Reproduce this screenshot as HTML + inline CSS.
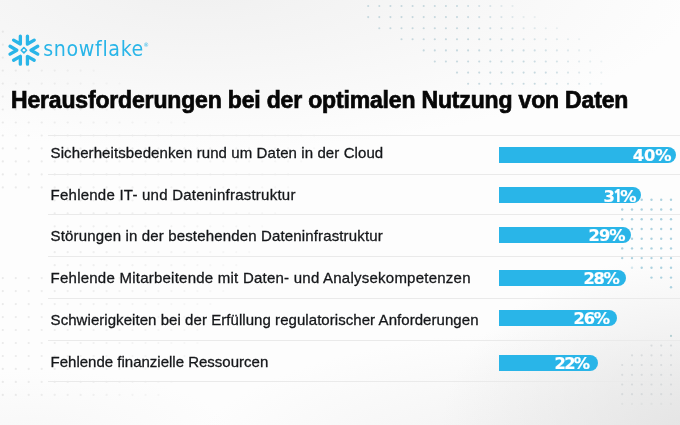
<!DOCTYPE html>
<html><head><meta charset="utf-8">
<style>
html,body{margin:0;padding:0}
body{width:680px;height:425px;overflow:hidden;position:relative;
background:
radial-gradient(ellipse 500px 165px at 200px -15px, rgba(240,240,240,1), rgba(240,240,240,0) 100%),
radial-gradient(ellipse 250px 180px at 690px 435px, rgba(228,228,228,1), rgba(228,228,228,0) 100%),
radial-gradient(ellipse 200px 60px at 30px 430px, rgba(248,248,248,1), rgba(248,248,248,0) 100%),
radial-gradient(ellipse 380px 140px at 560px 470px, rgba(240,240,240,1), rgba(240,240,240,0) 100%),
#fdfdfd;
font-family:"Liberation Sans",sans-serif}
.abs{position:absolute}
.logo-word{position:absolute;left:43.2px;top:35px;font-family:"DejaVu Sans Condensed","DejaVu Sans",sans-serif;font-size:21.2px;color:#29b5e8;letter-spacing:0.65px;line-height:28px;white-space:nowrap}
.logo-word sup{font-size:6px;vertical-align:top;position:relative;top:-4px;left:-0.5px}
.title{position:absolute;left:11px;top:86px;font-size:23px;font-weight:700;color:#070707;white-space:nowrap;line-height:28px;letter-spacing:-0.17px;-webkit-text-stroke:0.7px #070707}
.line{position:absolute;left:48px;right:0;height:1px;background:#eaeaea}
.row{position:absolute;left:50.6px;font-size:15px;color:#15171a;white-space:nowrap;line-height:20px;-webkit-text-stroke:0.3px #15171a}
.bar{position:absolute;left:499px;height:16px;background:#29b5e8;border-radius:0 8px 8px 0}
.bar>span{position:absolute;top:-0.8px;line-height:20px;font-family:"DejaVu Sans",sans-serif;font-size:16.3px;font-weight:700;color:#fff;white-space:nowrap;-webkit-text-stroke:0.2px #fff}
</style></head><body>
<!--DOTS--><svg class="abs" style="left:0;top:0" width="680" height="425" viewBox="0 0 680 425"><circle cx="368.2" cy="6.0" r="1.05" fill="#b5cdd6" opacity="0.75"/><circle cx="379.3" cy="6.0" r="1.05" fill="#b5cdd6" opacity="0.75"/><circle cx="390.4" cy="6.0" r="1.05" fill="#b5cdd6" opacity="0.75"/><circle cx="401.5" cy="6.0" r="1.05" fill="#b5cdd6" opacity="0.75"/><circle cx="412.6" cy="6.0" r="1.05" fill="#b5cdd6" opacity="0.75"/><circle cx="423.7" cy="6.0" r="1.05" fill="#b5cdd6" opacity="0.75"/><circle cx="434.8" cy="6.0" r="1.05" fill="#b5cdd6" opacity="0.75"/><circle cx="445.9" cy="6.0" r="1.05" fill="#b5cdd6" opacity="0.75"/><circle cx="457.0" cy="6.0" r="1.05" fill="#b5cdd6" opacity="0.72"/><circle cx="468.1" cy="6.0" r="1.05" fill="#b5cdd6" opacity="0.64"/><circle cx="479.2" cy="6.0" r="1.05" fill="#b5cdd6" opacity="0.56"/><circle cx="490.3" cy="6.0" r="1.05" fill="#b5cdd6" opacity="0.48"/><circle cx="501.4" cy="6.0" r="1.05" fill="#b5cdd6" opacity="0.41"/><circle cx="512.5" cy="6.0" r="1.05" fill="#b5cdd6" opacity="0.33"/><circle cx="368.2" cy="17.1" r="1.05" fill="#b5cdd6" opacity="0.75"/><circle cx="379.3" cy="17.1" r="1.05" fill="#b5cdd6" opacity="0.75"/><circle cx="390.4" cy="17.1" r="1.05" fill="#b5cdd6" opacity="0.75"/><circle cx="401.5" cy="17.1" r="1.05" fill="#b5cdd6" opacity="0.75"/><circle cx="412.6" cy="17.1" r="1.05" fill="#b5cdd6" opacity="0.75"/><circle cx="423.7" cy="17.1" r="1.05" fill="#b5cdd6" opacity="0.75"/><circle cx="434.8" cy="17.1" r="1.05" fill="#b5cdd6" opacity="0.75"/><circle cx="445.9" cy="17.1" r="1.05" fill="#b5cdd6" opacity="0.75"/><circle cx="457.0" cy="17.1" r="1.05" fill="#b5cdd6" opacity="0.75"/><circle cx="468.1" cy="17.1" r="1.05" fill="#b5cdd6" opacity="0.69"/><circle cx="479.2" cy="17.1" r="1.05" fill="#b5cdd6" opacity="0.62"/><circle cx="490.3" cy="17.1" r="1.05" fill="#b5cdd6" opacity="0.55"/><circle cx="501.4" cy="17.1" r="1.05" fill="#b5cdd6" opacity="0.47"/><circle cx="512.5" cy="17.1" r="1.05" fill="#b5cdd6" opacity="0.40"/><circle cx="523.6" cy="17.1" r="1.05" fill="#b5cdd6" opacity="0.33"/><circle cx="534.7" cy="17.1" r="1.05" fill="#b5cdd6" opacity="0.26"/><circle cx="379.3" cy="28.2" r="1.05" fill="#b5cdd6" opacity="0.75"/><circle cx="390.4" cy="28.2" r="1.05" fill="#b5cdd6" opacity="0.75"/><circle cx="401.5" cy="28.2" r="1.05" fill="#b5cdd6" opacity="0.75"/><circle cx="412.6" cy="28.2" r="1.05" fill="#b5cdd6" opacity="0.75"/><circle cx="423.7" cy="28.2" r="1.05" fill="#b5cdd6" opacity="0.75"/><circle cx="434.8" cy="28.2" r="1.05" fill="#b5cdd6" opacity="0.75"/><circle cx="445.9" cy="28.2" r="1.05" fill="#b5cdd6" opacity="0.75"/><circle cx="457.0" cy="28.2" r="1.05" fill="#b5cdd6" opacity="0.75"/><circle cx="468.1" cy="28.2" r="1.05" fill="#b5cdd6" opacity="0.75"/><circle cx="479.2" cy="28.2" r="1.05" fill="#b5cdd6" opacity="0.73"/><circle cx="490.3" cy="28.2" r="1.05" fill="#b5cdd6" opacity="0.67"/><circle cx="501.4" cy="28.2" r="1.05" fill="#b5cdd6" opacity="0.60"/><circle cx="512.5" cy="28.2" r="1.05" fill="#b5cdd6" opacity="0.53"/><circle cx="523.6" cy="28.2" r="1.05" fill="#b5cdd6" opacity="0.46"/><circle cx="534.7" cy="28.2" r="1.05" fill="#b5cdd6" opacity="0.40"/><circle cx="545.8" cy="28.2" r="1.05" fill="#b5cdd6" opacity="0.33"/><circle cx="556.9" cy="28.2" r="1.05" fill="#b5cdd6" opacity="0.26"/><circle cx="401.5" cy="39.3" r="1.05" fill="#b5cdd6" opacity="0.75"/><circle cx="412.6" cy="39.3" r="1.05" fill="#b5cdd6" opacity="0.75"/><circle cx="423.7" cy="39.3" r="1.05" fill="#b5cdd6" opacity="0.75"/><circle cx="434.8" cy="39.3" r="1.05" fill="#b5cdd6" opacity="0.75"/><circle cx="445.9" cy="39.3" r="1.05" fill="#b5cdd6" opacity="0.75"/><circle cx="457.0" cy="39.3" r="1.05" fill="#b5cdd6" opacity="0.75"/><circle cx="468.1" cy="39.3" r="1.05" fill="#b5cdd6" opacity="0.75"/><circle cx="479.2" cy="39.3" r="1.05" fill="#b5cdd6" opacity="0.75"/><circle cx="490.3" cy="39.3" r="1.05" fill="#b5cdd6" opacity="0.75"/><circle cx="501.4" cy="39.3" r="1.05" fill="#b5cdd6" opacity="0.73"/><circle cx="512.5" cy="39.3" r="1.05" fill="#b5cdd6" opacity="0.66"/><circle cx="523.6" cy="39.3" r="1.05" fill="#b5cdd6" opacity="0.60"/><circle cx="534.7" cy="39.3" r="1.05" fill="#b5cdd6" opacity="0.53"/><circle cx="545.8" cy="39.3" r="1.05" fill="#b5cdd6" opacity="0.46"/><circle cx="556.9" cy="39.3" r="1.05" fill="#b5cdd6" opacity="0.40"/><circle cx="568.0" cy="39.3" r="1.05" fill="#b5cdd6" opacity="0.33"/><circle cx="579.1" cy="39.3" r="1.05" fill="#b5cdd6" opacity="0.26"/><circle cx="423.7" cy="50.4" r="1.05" fill="#b5cdd6" opacity="0.75"/><circle cx="434.8" cy="50.4" r="1.05" fill="#b5cdd6" opacity="0.75"/><circle cx="445.9" cy="50.4" r="1.05" fill="#b5cdd6" opacity="0.75"/><circle cx="457.0" cy="50.4" r="1.05" fill="#b5cdd6" opacity="0.75"/><circle cx="468.1" cy="50.4" r="1.05" fill="#b5cdd6" opacity="0.75"/><circle cx="479.2" cy="50.4" r="1.05" fill="#b5cdd6" opacity="0.75"/><circle cx="490.3" cy="50.4" r="1.05" fill="#b5cdd6" opacity="0.75"/><circle cx="501.4" cy="50.4" r="1.05" fill="#b5cdd6" opacity="0.75"/><circle cx="512.5" cy="50.4" r="1.05" fill="#b5cdd6" opacity="0.75"/><circle cx="523.6" cy="50.4" r="1.05" fill="#b5cdd6" opacity="0.69"/><circle cx="534.7" cy="50.4" r="1.05" fill="#b5cdd6" opacity="0.62"/><circle cx="545.8" cy="50.4" r="1.05" fill="#b5cdd6" opacity="0.55"/><circle cx="556.9" cy="50.4" r="1.05" fill="#b5cdd6" opacity="0.48"/><circle cx="568.0" cy="50.4" r="1.05" fill="#b5cdd6" opacity="0.40"/><circle cx="579.1" cy="50.4" r="1.05" fill="#b5cdd6" opacity="0.33"/><circle cx="590.2" cy="50.4" r="1.05" fill="#b5cdd6" opacity="0.26"/><circle cx="434.8" cy="61.5" r="1.05" fill="#b5cdd6" opacity="0.75"/><circle cx="445.9" cy="61.5" r="1.05" fill="#b5cdd6" opacity="0.75"/><circle cx="457.0" cy="61.5" r="1.05" fill="#b5cdd6" opacity="0.75"/><circle cx="468.1" cy="61.5" r="1.05" fill="#b5cdd6" opacity="0.75"/><circle cx="479.2" cy="61.5" r="1.05" fill="#b5cdd6" opacity="0.75"/><circle cx="490.3" cy="61.5" r="1.05" fill="#b5cdd6" opacity="0.75"/><circle cx="501.4" cy="61.5" r="1.05" fill="#b5cdd6" opacity="0.75"/><circle cx="512.5" cy="61.5" r="1.05" fill="#b5cdd6" opacity="0.75"/><circle cx="523.6" cy="61.5" r="1.05" fill="#b5cdd6" opacity="0.75"/><circle cx="534.7" cy="61.5" r="1.05" fill="#b5cdd6" opacity="0.69"/><circle cx="545.8" cy="61.5" r="1.05" fill="#b5cdd6" opacity="0.62"/><circle cx="556.9" cy="61.5" r="1.05" fill="#b5cdd6" opacity="0.55"/><circle cx="568.0" cy="61.5" r="1.05" fill="#b5cdd6" opacity="0.48"/><circle cx="579.1" cy="61.5" r="1.05" fill="#b5cdd6" opacity="0.40"/><circle cx="590.2" cy="61.5" r="1.05" fill="#b5cdd6" opacity="0.33"/><circle cx="601.3" cy="61.5" r="1.05" fill="#b5cdd6" opacity="0.26"/><circle cx="457.0" cy="72.6" r="1.05" fill="#b5cdd6" opacity="0.75"/><circle cx="468.1" cy="72.6" r="1.05" fill="#b5cdd6" opacity="0.75"/><circle cx="479.2" cy="72.6" r="1.05" fill="#b5cdd6" opacity="0.75"/><circle cx="490.3" cy="72.6" r="1.05" fill="#b5cdd6" opacity="0.75"/><circle cx="501.4" cy="72.6" r="1.05" fill="#b5cdd6" opacity="0.75"/><circle cx="512.5" cy="72.6" r="1.05" fill="#b5cdd6" opacity="0.75"/><circle cx="523.6" cy="72.6" r="1.05" fill="#b5cdd6" opacity="0.75"/><circle cx="534.7" cy="72.6" r="1.05" fill="#b5cdd6" opacity="0.75"/><circle cx="545.8" cy="72.6" r="1.05" fill="#b5cdd6" opacity="0.67"/><circle cx="556.9" cy="72.6" r="1.05" fill="#b5cdd6" opacity="0.59"/><circle cx="568.0" cy="72.6" r="1.05" fill="#b5cdd6" opacity="0.51"/><circle cx="579.1" cy="72.6" r="1.05" fill="#b5cdd6" opacity="0.43"/><circle cx="590.2" cy="72.6" r="1.05" fill="#b5cdd6" opacity="0.34"/><circle cx="601.3" cy="72.6" r="1.05" fill="#b5cdd6" opacity="0.26"/><circle cx="468.1" cy="83.7" r="1.05" fill="#b5cdd6" opacity="0.75"/><circle cx="479.2" cy="83.7" r="1.05" fill="#b5cdd6" opacity="0.75"/><circle cx="490.3" cy="83.7" r="1.05" fill="#b5cdd6" opacity="0.75"/><circle cx="501.4" cy="83.7" r="1.05" fill="#b5cdd6" opacity="0.75"/><circle cx="512.5" cy="83.7" r="1.05" fill="#b5cdd6" opacity="0.75"/><circle cx="523.6" cy="83.7" r="1.05" fill="#b5cdd6" opacity="0.75"/><circle cx="534.7" cy="83.7" r="1.05" fill="#b5cdd6" opacity="0.75"/><circle cx="545.8" cy="83.7" r="1.05" fill="#b5cdd6" opacity="0.71"/><circle cx="556.9" cy="83.7" r="1.05" fill="#b5cdd6" opacity="0.62"/><circle cx="568.0" cy="83.7" r="1.05" fill="#b5cdd6" opacity="0.53"/><circle cx="579.1" cy="83.7" r="1.05" fill="#b5cdd6" opacity="0.44"/><circle cx="590.2" cy="83.7" r="1.05" fill="#b5cdd6" opacity="0.35"/><circle cx="601.3" cy="83.7" r="1.05" fill="#b5cdd6" opacity="0.26"/><circle cx="622.2" cy="199.8" r="1.2" fill="#acd2e0" opacity="1.00"/><circle cx="632.0" cy="199.8" r="1.2" fill="#acd2e0" opacity="1.00"/><circle cx="641.7" cy="199.8" r="1.2" fill="#acd2e0" opacity="1.00"/><circle cx="651.5" cy="199.8" r="1.2" fill="#acd2e0" opacity="1.00"/><circle cx="661.2" cy="199.8" r="1.2" fill="#acd2e0" opacity="1.00"/><circle cx="671.0" cy="199.8" r="1.2" fill="#acd2e0" opacity="1.00"/><circle cx="622.2" cy="209.5" r="1.2" fill="#acd2e0" opacity="1.00"/><circle cx="632.0" cy="209.5" r="1.2" fill="#acd2e0" opacity="1.00"/><circle cx="641.7" cy="209.5" r="1.2" fill="#acd2e0" opacity="1.00"/><circle cx="651.5" cy="209.5" r="1.2" fill="#acd2e0" opacity="1.00"/><circle cx="661.2" cy="209.5" r="1.2" fill="#acd2e0" opacity="1.00"/><circle cx="671.0" cy="209.5" r="1.2" fill="#acd2e0" opacity="1.00"/><circle cx="622.2" cy="219.2" r="1.2" fill="#acd2e0" opacity="1.00"/><circle cx="632.0" cy="219.2" r="1.2" fill="#acd2e0" opacity="1.00"/><circle cx="641.7" cy="219.2" r="1.2" fill="#acd2e0" opacity="1.00"/><circle cx="651.5" cy="219.2" r="1.2" fill="#acd2e0" opacity="1.00"/><circle cx="661.2" cy="219.2" r="1.2" fill="#acd2e0" opacity="1.00"/><circle cx="671.0" cy="219.2" r="1.2" fill="#acd2e0" opacity="1.00"/><circle cx="622.2" cy="229.0" r="1.2" fill="#acd2e0" opacity="1.00"/><circle cx="632.0" cy="229.0" r="1.2" fill="#acd2e0" opacity="1.00"/><circle cx="641.7" cy="229.0" r="1.2" fill="#acd2e0" opacity="1.00"/><circle cx="651.5" cy="229.0" r="1.2" fill="#acd2e0" opacity="1.00"/><circle cx="661.2" cy="229.0" r="1.2" fill="#acd2e0" opacity="1.00"/><circle cx="671.0" cy="229.0" r="1.2" fill="#acd2e0" opacity="1.00"/><circle cx="622.2" cy="238.7" r="1.2" fill="#acd2e0" opacity="1.00"/><circle cx="632.0" cy="238.7" r="1.2" fill="#acd2e0" opacity="1.00"/><circle cx="641.7" cy="238.7" r="1.2" fill="#acd2e0" opacity="1.00"/><circle cx="651.5" cy="238.7" r="1.2" fill="#acd2e0" opacity="1.00"/><circle cx="661.2" cy="238.7" r="1.2" fill="#acd2e0" opacity="1.00"/><circle cx="671.0" cy="238.7" r="1.2" fill="#acd2e0" opacity="1.00"/><circle cx="622.2" cy="248.4" r="1.2" fill="#acd2e0" opacity="1.00"/><circle cx="632.0" cy="248.4" r="1.2" fill="#acd2e0" opacity="1.00"/><circle cx="641.7" cy="248.4" r="1.2" fill="#acd2e0" opacity="1.00"/><circle cx="651.5" cy="248.4" r="1.2" fill="#acd2e0" opacity="1.00"/><circle cx="661.2" cy="248.4" r="1.2" fill="#acd2e0" opacity="1.00"/><circle cx="671.0" cy="248.4" r="1.2" fill="#acd2e0" opacity="1.00"/><circle cx="622.2" cy="258.1" r="1.2" fill="#acd2e0" opacity="1.00"/><circle cx="632.0" cy="258.1" r="1.2" fill="#acd2e0" opacity="1.00"/><circle cx="641.7" cy="258.1" r="1.2" fill="#acd2e0" opacity="1.00"/><circle cx="651.5" cy="258.1" r="1.2" fill="#acd2e0" opacity="1.00"/><circle cx="661.2" cy="258.1" r="1.2" fill="#acd2e0" opacity="1.00"/><circle cx="671.0" cy="258.1" r="1.2" fill="#acd2e0" opacity="1.00"/><circle cx="632.0" cy="267.8" r="1.2" fill="#acd2e0" opacity="0.50"/><circle cx="641.7" cy="267.8" r="1.2" fill="#acd2e0" opacity="1.00"/><circle cx="651.5" cy="267.8" r="1.2" fill="#acd2e0" opacity="1.00"/><circle cx="661.2" cy="267.8" r="1.2" fill="#acd2e0" opacity="1.00"/><circle cx="671.0" cy="267.8" r="1.2" fill="#acd2e0" opacity="1.00"/><circle cx="651.5" cy="277.6" r="1.2" fill="#acd2e0" opacity="1.00"/><circle cx="661.2" cy="277.6" r="1.2" fill="#acd2e0" opacity="1.00"/><circle cx="671.0" cy="277.6" r="1.2" fill="#acd2e0" opacity="1.00"/><circle cx="671.0" cy="287.3" r="1.2" fill="#acd2e0" opacity="1.00"/><circle cx="671.0" cy="335.9" r="1.05" fill="#9fc3c8" opacity="0.8"/><circle cx="651.5" cy="345.6" r="1.1" fill="#d2d6d8" opacity="0.80"/><circle cx="661.2" cy="345.6" r="1.1" fill="#d2d6d8" opacity="0.80"/><circle cx="671.0" cy="345.6" r="1.1" fill="#d2d6d8" opacity="0.80"/><circle cx="632.0" cy="355.3" r="1.1" fill="#d2d6d8" opacity="0.80"/><circle cx="641.7" cy="355.3" r="1.1" fill="#d2d6d8" opacity="0.80"/><circle cx="651.5" cy="355.3" r="1.1" fill="#d2d6d8" opacity="0.80"/><circle cx="661.2" cy="355.3" r="1.1" fill="#d2d6d8" opacity="0.80"/><circle cx="671.0" cy="355.3" r="1.1" fill="#d2d6d8" opacity="0.80"/><circle cx="622.2" cy="365.0" r="1.1" fill="#d2d6d8" opacity="0.80"/><circle cx="632.0" cy="365.0" r="1.1" fill="#d2d6d8" opacity="0.80"/><circle cx="641.7" cy="365.0" r="1.1" fill="#d2d6d8" opacity="0.80"/><circle cx="651.5" cy="365.0" r="1.1" fill="#d2d6d8" opacity="0.80"/><circle cx="661.2" cy="365.0" r="1.1" fill="#d2d6d8" opacity="0.80"/><circle cx="671.0" cy="365.0" r="1.1" fill="#d2d6d8" opacity="0.80"/><circle cx="622.2" cy="374.8" r="1.1" fill="#d2d6d8" opacity="0.80"/><circle cx="632.0" cy="374.8" r="1.1" fill="#d2d6d8" opacity="0.80"/><circle cx="641.7" cy="374.8" r="1.1" fill="#d2d6d8" opacity="0.80"/><circle cx="651.5" cy="374.8" r="1.1" fill="#d2d6d8" opacity="0.80"/><circle cx="661.2" cy="374.8" r="1.1" fill="#d2d6d8" opacity="0.80"/><circle cx="671.0" cy="374.8" r="1.1" fill="#d2d6d8" opacity="0.80"/><circle cx="622.2" cy="384.5" r="1.1" fill="#d2d6d8" opacity="0.80"/><circle cx="632.0" cy="384.5" r="1.1" fill="#d2d6d8" opacity="0.80"/><circle cx="641.7" cy="384.5" r="1.1" fill="#d2d6d8" opacity="0.80"/><circle cx="651.5" cy="384.5" r="1.1" fill="#d2d6d8" opacity="0.80"/><circle cx="661.2" cy="384.5" r="1.1" fill="#d2d6d8" opacity="0.80"/><circle cx="671.0" cy="384.5" r="1.1" fill="#d2d6d8" opacity="0.80"/><circle cx="622.2" cy="394.2" r="1.1" fill="#d2d6d8" opacity="0.80"/><circle cx="632.0" cy="394.2" r="1.1" fill="#d2d6d8" opacity="0.80"/><circle cx="641.7" cy="394.2" r="1.1" fill="#d2d6d8" opacity="0.80"/><circle cx="651.5" cy="394.2" r="1.1" fill="#d2d6d8" opacity="0.80"/><circle cx="661.2" cy="394.2" r="1.1" fill="#d2d6d8" opacity="0.80"/><circle cx="671.0" cy="394.2" r="1.1" fill="#d2d6d8" opacity="0.80"/><circle cx="622.2" cy="403.9" r="1.1" fill="#d2d6d8" opacity="0.45"/><circle cx="632.0" cy="403.9" r="1.1" fill="#d2d6d8" opacity="0.45"/><circle cx="641.7" cy="403.9" r="1.1" fill="#d2d6d8" opacity="0.45"/><circle cx="651.5" cy="403.9" r="1.1" fill="#d2d6d8" opacity="0.45"/><circle cx="661.2" cy="403.9" r="1.1" fill="#d2d6d8" opacity="0.45"/><circle cx="671.0" cy="403.9" r="1.1" fill="#d2d6d8" opacity="0.45"/><circle cx="2.8" cy="31.7" r="1.1" fill="#dcdcdc" opacity="0.59"/><circle cx="2.8" cy="44.7" r="1.1" fill="#dcdcdc" opacity="0.59"/><circle cx="2.8" cy="57.6" r="1.1" fill="#dcdcdc" opacity="0.59"/><circle cx="2.8" cy="70.6" r="1.1" fill="#dcdcdc" opacity="0.59"/><circle cx="15.8" cy="70.6" r="1.1" fill="#dcdcdc" opacity="0.54"/><circle cx="28.7" cy="70.6" r="1.1" fill="#dcdcdc" opacity="0.50"/><circle cx="41.7" cy="70.6" r="1.1" fill="#dcdcdc" opacity="0.46"/><circle cx="54.7" cy="70.6" r="1.1" fill="#dcdcdc" opacity="0.42"/><circle cx="67.7" cy="70.6" r="1.1" fill="#dcdcdc" opacity="0.38"/><circle cx="80.6" cy="70.6" r="1.1" fill="#dcdcdc" opacity="0.33"/><circle cx="93.6" cy="70.6" r="1.1" fill="#dcdcdc" opacity="0.29"/><circle cx="2.8" cy="83.6" r="1.1" fill="#dcdcdc" opacity="0.59"/><circle cx="15.8" cy="83.6" r="1.1" fill="#dcdcdc" opacity="0.54"/><circle cx="28.7" cy="83.6" r="1.1" fill="#dcdcdc" opacity="0.50"/><circle cx="41.7" cy="83.6" r="1.1" fill="#dcdcdc" opacity="0.46"/><circle cx="54.7" cy="83.6" r="1.1" fill="#dcdcdc" opacity="0.42"/><circle cx="67.7" cy="83.6" r="1.1" fill="#dcdcdc" opacity="0.38"/><circle cx="80.6" cy="83.6" r="1.1" fill="#dcdcdc" opacity="0.33"/><circle cx="93.6" cy="83.6" r="1.1" fill="#dcdcdc" opacity="0.29"/><circle cx="106.6" cy="83.6" r="1.1" fill="#dcdcdc" opacity="0.25"/><circle cx="119.5" cy="83.6" r="1.1" fill="#dcdcdc" opacity="0.21"/><circle cx="2.8" cy="96.6" r="1.1" fill="#dcdcdc" opacity="0.59"/><circle cx="15.8" cy="96.6" r="1.1" fill="#dcdcdc" opacity="0.54"/><circle cx="28.7" cy="96.6" r="1.1" fill="#dcdcdc" opacity="0.50"/><circle cx="41.7" cy="96.6" r="1.1" fill="#dcdcdc" opacity="0.46"/><circle cx="54.7" cy="96.6" r="1.1" fill="#dcdcdc" opacity="0.42"/><circle cx="67.7" cy="96.6" r="1.1" fill="#dcdcdc" opacity="0.38"/><circle cx="80.6" cy="96.6" r="1.1" fill="#dcdcdc" opacity="0.33"/><circle cx="93.6" cy="96.6" r="1.1" fill="#dcdcdc" opacity="0.29"/><circle cx="106.6" cy="96.6" r="1.1" fill="#dcdcdc" opacity="0.25"/><circle cx="119.5" cy="96.6" r="1.1" fill="#dcdcdc" opacity="0.21"/><circle cx="2.8" cy="109.5" r="1.1" fill="#dcdcdc" opacity="0.59"/><circle cx="15.8" cy="109.5" r="1.1" fill="#dcdcdc" opacity="0.54"/><circle cx="28.7" cy="109.5" r="1.1" fill="#dcdcdc" opacity="0.50"/><circle cx="41.7" cy="109.5" r="1.1" fill="#dcdcdc" opacity="0.46"/><circle cx="54.7" cy="109.5" r="1.1" fill="#dcdcdc" opacity="0.42"/><circle cx="67.7" cy="109.5" r="1.1" fill="#dcdcdc" opacity="0.38"/><circle cx="80.6" cy="109.5" r="1.1" fill="#dcdcdc" opacity="0.33"/><circle cx="93.6" cy="109.5" r="1.1" fill="#dcdcdc" opacity="0.29"/><circle cx="106.6" cy="109.5" r="1.1" fill="#dcdcdc" opacity="0.25"/><circle cx="119.5" cy="109.5" r="1.1" fill="#dcdcdc" opacity="0.21"/><circle cx="2.8" cy="122.5" r="1.1" fill="#dcdcdc" opacity="0.59"/><circle cx="15.8" cy="122.5" r="1.1" fill="#dcdcdc" opacity="0.56"/><circle cx="28.7" cy="122.5" r="1.1" fill="#dcdcdc" opacity="0.53"/><circle cx="41.7" cy="122.5" r="1.1" fill="#dcdcdc" opacity="0.50"/><circle cx="54.7" cy="122.5" r="1.1" fill="#dcdcdc" opacity="0.47"/><circle cx="67.7" cy="122.5" r="1.1" fill="#dcdcdc" opacity="0.45"/><circle cx="80.6" cy="122.5" r="1.1" fill="#dcdcdc" opacity="0.42"/><circle cx="93.6" cy="122.5" r="1.1" fill="#dcdcdc" opacity="0.39"/><circle cx="106.6" cy="122.5" r="1.1" fill="#dcdcdc" opacity="0.36"/><circle cx="119.5" cy="122.5" r="1.1" fill="#dcdcdc" opacity="0.33"/><circle cx="132.5" cy="122.5" r="1.1" fill="#dcdcdc" opacity="0.30"/><circle cx="145.5" cy="122.5" r="1.1" fill="#dcdcdc" opacity="0.27"/><circle cx="158.4" cy="122.5" r="1.1" fill="#dcdcdc" opacity="0.24"/><circle cx="171.4" cy="122.5" r="1.1" fill="#dcdcdc" opacity="0.22"/><circle cx="184.4" cy="122.5" r="1.1" fill="#dcdcdc" opacity="0.19"/><circle cx="2.8" cy="135.5" r="1.1" fill="#dcdcdc" opacity="0.59"/><circle cx="15.8" cy="135.5" r="1.1" fill="#dcdcdc" opacity="0.57"/><circle cx="28.7" cy="135.5" r="1.1" fill="#dcdcdc" opacity="0.56"/><circle cx="41.7" cy="135.5" r="1.1" fill="#dcdcdc" opacity="0.54"/><circle cx="54.7" cy="135.5" r="1.1" fill="#dcdcdc" opacity="0.52"/><circle cx="67.7" cy="135.5" r="1.1" fill="#dcdcdc" opacity="0.51"/><circle cx="80.6" cy="135.5" r="1.1" fill="#dcdcdc" opacity="0.49"/><circle cx="93.6" cy="135.5" r="1.1" fill="#dcdcdc" opacity="0.47"/><circle cx="106.6" cy="135.5" r="1.1" fill="#dcdcdc" opacity="0.46"/><circle cx="119.5" cy="135.5" r="1.1" fill="#dcdcdc" opacity="0.44"/><circle cx="132.5" cy="135.5" r="1.1" fill="#dcdcdc" opacity="0.42"/><circle cx="145.5" cy="135.5" r="1.1" fill="#dcdcdc" opacity="0.41"/><circle cx="158.4" cy="135.5" r="1.1" fill="#dcdcdc" opacity="0.39"/><circle cx="171.4" cy="135.5" r="1.1" fill="#dcdcdc" opacity="0.37"/><circle cx="184.4" cy="135.5" r="1.1" fill="#dcdcdc" opacity="0.35"/><circle cx="197.4" cy="135.5" r="1.1" fill="#dcdcdc" opacity="0.34"/><circle cx="210.3" cy="135.5" r="1.1" fill="#dcdcdc" opacity="0.32"/><circle cx="223.3" cy="135.5" r="1.1" fill="#dcdcdc" opacity="0.30"/><circle cx="236.3" cy="135.5" r="1.1" fill="#dcdcdc" opacity="0.29"/><circle cx="249.2" cy="135.5" r="1.1" fill="#dcdcdc" opacity="0.27"/><circle cx="262.2" cy="135.5" r="1.1" fill="#dcdcdc" opacity="0.25"/><circle cx="275.2" cy="135.5" r="1.1" fill="#dcdcdc" opacity="0.24"/><circle cx="288.1" cy="135.5" r="1.1" fill="#dcdcdc" opacity="0.22"/><circle cx="301.1" cy="135.5" r="1.1" fill="#dcdcdc" opacity="0.20"/><circle cx="314.1" cy="135.5" r="1.1" fill="#dcdcdc" opacity="0.19"/><circle cx="2.8" cy="148.4" r="1.1" fill="#dcdcdc" opacity="0.59"/><circle cx="15.8" cy="148.4" r="1.1" fill="#dcdcdc" opacity="0.57"/><circle cx="28.7" cy="148.4" r="1.1" fill="#dcdcdc" opacity="0.56"/><circle cx="41.7" cy="148.4" r="1.1" fill="#dcdcdc" opacity="0.54"/><circle cx="54.7" cy="148.4" r="1.1" fill="#dcdcdc" opacity="0.52"/><circle cx="67.7" cy="148.4" r="1.1" fill="#dcdcdc" opacity="0.50"/><circle cx="80.6" cy="148.4" r="1.1" fill="#dcdcdc" opacity="0.49"/><circle cx="93.6" cy="148.4" r="1.1" fill="#dcdcdc" opacity="0.47"/><circle cx="106.6" cy="148.4" r="1.1" fill="#dcdcdc" opacity="0.45"/><circle cx="119.5" cy="148.4" r="1.1" fill="#dcdcdc" opacity="0.44"/><circle cx="132.5" cy="148.4" r="1.1" fill="#dcdcdc" opacity="0.42"/><circle cx="145.5" cy="148.4" r="1.1" fill="#dcdcdc" opacity="0.40"/><circle cx="158.4" cy="148.4" r="1.1" fill="#dcdcdc" opacity="0.38"/><circle cx="171.4" cy="148.4" r="1.1" fill="#dcdcdc" opacity="0.37"/><circle cx="184.4" cy="148.4" r="1.1" fill="#dcdcdc" opacity="0.35"/><circle cx="197.4" cy="148.4" r="1.1" fill="#dcdcdc" opacity="0.33"/><circle cx="210.3" cy="148.4" r="1.1" fill="#dcdcdc" opacity="0.31"/><circle cx="223.3" cy="148.4" r="1.1" fill="#dcdcdc" opacity="0.30"/><circle cx="236.3" cy="148.4" r="1.1" fill="#dcdcdc" opacity="0.28"/><circle cx="249.2" cy="148.4" r="1.1" fill="#dcdcdc" opacity="0.26"/><circle cx="262.2" cy="148.4" r="1.1" fill="#dcdcdc" opacity="0.24"/><circle cx="275.2" cy="148.4" r="1.1" fill="#dcdcdc" opacity="0.23"/><circle cx="288.1" cy="148.4" r="1.1" fill="#dcdcdc" opacity="0.21"/><circle cx="301.1" cy="148.4" r="1.1" fill="#dcdcdc" opacity="0.19"/><circle cx="314.1" cy="148.4" r="1.1" fill="#dcdcdc" opacity="0.18"/><circle cx="2.8" cy="161.4" r="1.1" fill="#dcdcdc" opacity="0.59"/><circle cx="15.8" cy="161.4" r="1.1" fill="#dcdcdc" opacity="0.57"/><circle cx="28.7" cy="161.4" r="1.1" fill="#dcdcdc" opacity="0.56"/><circle cx="41.7" cy="161.4" r="1.1" fill="#dcdcdc" opacity="0.54"/><circle cx="54.7" cy="161.4" r="1.1" fill="#dcdcdc" opacity="0.52"/><circle cx="67.7" cy="161.4" r="1.1" fill="#dcdcdc" opacity="0.50"/><circle cx="80.6" cy="161.4" r="1.1" fill="#dcdcdc" opacity="0.48"/><circle cx="93.6" cy="161.4" r="1.1" fill="#dcdcdc" opacity="0.47"/><circle cx="106.6" cy="161.4" r="1.1" fill="#dcdcdc" opacity="0.45"/><circle cx="119.5" cy="161.4" r="1.1" fill="#dcdcdc" opacity="0.43"/><circle cx="132.5" cy="161.4" r="1.1" fill="#dcdcdc" opacity="0.41"/><circle cx="145.5" cy="161.4" r="1.1" fill="#dcdcdc" opacity="0.40"/><circle cx="158.4" cy="161.4" r="1.1" fill="#dcdcdc" opacity="0.38"/><circle cx="171.4" cy="161.4" r="1.1" fill="#dcdcdc" opacity="0.36"/><circle cx="184.4" cy="161.4" r="1.1" fill="#dcdcdc" opacity="0.34"/><circle cx="197.4" cy="161.4" r="1.1" fill="#dcdcdc" opacity="0.32"/><circle cx="210.3" cy="161.4" r="1.1" fill="#dcdcdc" opacity="0.31"/><circle cx="223.3" cy="161.4" r="1.1" fill="#dcdcdc" opacity="0.29"/><circle cx="236.3" cy="161.4" r="1.1" fill="#dcdcdc" opacity="0.27"/><circle cx="249.2" cy="161.4" r="1.1" fill="#dcdcdc" opacity="0.25"/><circle cx="262.2" cy="161.4" r="1.1" fill="#dcdcdc" opacity="0.24"/><circle cx="275.2" cy="161.4" r="1.1" fill="#dcdcdc" opacity="0.22"/><circle cx="288.1" cy="161.4" r="1.1" fill="#dcdcdc" opacity="0.20"/><circle cx="301.1" cy="161.4" r="1.1" fill="#dcdcdc" opacity="0.18"/><circle cx="2.8" cy="174.4" r="1.1" fill="#dcdcdc" opacity="0.59"/><circle cx="15.8" cy="174.4" r="1.1" fill="#dcdcdc" opacity="0.57"/><circle cx="28.7" cy="174.4" r="1.1" fill="#dcdcdc" opacity="0.55"/><circle cx="41.7" cy="174.4" r="1.1" fill="#dcdcdc" opacity="0.54"/><circle cx="54.7" cy="174.4" r="1.1" fill="#dcdcdc" opacity="0.52"/><circle cx="67.7" cy="174.4" r="1.1" fill="#dcdcdc" opacity="0.50"/><circle cx="80.6" cy="174.4" r="1.1" fill="#dcdcdc" opacity="0.48"/><circle cx="93.6" cy="174.4" r="1.1" fill="#dcdcdc" opacity="0.46"/><circle cx="106.6" cy="174.4" r="1.1" fill="#dcdcdc" opacity="0.45"/><circle cx="119.5" cy="174.4" r="1.1" fill="#dcdcdc" opacity="0.43"/><circle cx="132.5" cy="174.4" r="1.1" fill="#dcdcdc" opacity="0.41"/><circle cx="145.5" cy="174.4" r="1.1" fill="#dcdcdc" opacity="0.39"/><circle cx="158.4" cy="174.4" r="1.1" fill="#dcdcdc" opacity="0.37"/><circle cx="171.4" cy="174.4" r="1.1" fill="#dcdcdc" opacity="0.35"/><circle cx="184.4" cy="174.4" r="1.1" fill="#dcdcdc" opacity="0.34"/><circle cx="197.4" cy="174.4" r="1.1" fill="#dcdcdc" opacity="0.32"/><circle cx="210.3" cy="174.4" r="1.1" fill="#dcdcdc" opacity="0.30"/><circle cx="223.3" cy="174.4" r="1.1" fill="#dcdcdc" opacity="0.28"/><circle cx="236.3" cy="174.4" r="1.1" fill="#dcdcdc" opacity="0.26"/><circle cx="249.2" cy="174.4" r="1.1" fill="#dcdcdc" opacity="0.24"/><circle cx="262.2" cy="174.4" r="1.1" fill="#dcdcdc" opacity="0.23"/><circle cx="275.2" cy="174.4" r="1.1" fill="#dcdcdc" opacity="0.21"/><circle cx="288.1" cy="174.4" r="1.1" fill="#dcdcdc" opacity="0.19"/><circle cx="2.8" cy="187.4" r="1.1" fill="#dcdcdc" opacity="0.59"/><circle cx="15.8" cy="187.4" r="1.1" fill="#dcdcdc" opacity="0.57"/><circle cx="28.7" cy="187.4" r="1.1" fill="#dcdcdc" opacity="0.55"/><circle cx="41.7" cy="187.4" r="1.1" fill="#dcdcdc" opacity="0.53"/><circle cx="54.7" cy="187.4" r="1.1" fill="#dcdcdc" opacity="0.52"/><circle cx="67.7" cy="187.4" r="1.1" fill="#dcdcdc" opacity="0.50"/><circle cx="80.6" cy="187.4" r="1.1" fill="#dcdcdc" opacity="0.48"/><circle cx="93.6" cy="187.4" r="1.1" fill="#dcdcdc" opacity="0.46"/><circle cx="106.6" cy="187.4" r="1.1" fill="#dcdcdc" opacity="0.44"/><circle cx="119.5" cy="187.4" r="1.1" fill="#dcdcdc" opacity="0.42"/><circle cx="132.5" cy="187.4" r="1.1" fill="#dcdcdc" opacity="0.40"/><circle cx="145.5" cy="187.4" r="1.1" fill="#dcdcdc" opacity="0.38"/><circle cx="158.4" cy="187.4" r="1.1" fill="#dcdcdc" opacity="0.37"/><circle cx="171.4" cy="187.4" r="1.1" fill="#dcdcdc" opacity="0.35"/><circle cx="184.4" cy="187.4" r="1.1" fill="#dcdcdc" opacity="0.33"/><circle cx="197.4" cy="187.4" r="1.1" fill="#dcdcdc" opacity="0.31"/><circle cx="210.3" cy="187.4" r="1.1" fill="#dcdcdc" opacity="0.29"/><circle cx="223.3" cy="187.4" r="1.1" fill="#dcdcdc" opacity="0.27"/><circle cx="236.3" cy="187.4" r="1.1" fill="#dcdcdc" opacity="0.25"/><circle cx="249.2" cy="187.4" r="1.1" fill="#dcdcdc" opacity="0.24"/><circle cx="262.2" cy="187.4" r="1.1" fill="#dcdcdc" opacity="0.22"/><circle cx="275.2" cy="187.4" r="1.1" fill="#dcdcdc" opacity="0.20"/><circle cx="288.1" cy="187.4" r="1.1" fill="#dcdcdc" opacity="0.18"/><circle cx="54.7" cy="200.3" r="1.1" fill="#dcdcdc" opacity="0.51"/><circle cx="67.7" cy="200.3" r="1.1" fill="#dcdcdc" opacity="0.49"/><circle cx="80.6" cy="200.3" r="1.1" fill="#dcdcdc" opacity="0.48"/><circle cx="93.6" cy="200.3" r="1.1" fill="#dcdcdc" opacity="0.46"/><circle cx="106.6" cy="200.3" r="1.1" fill="#dcdcdc" opacity="0.44"/><circle cx="119.5" cy="200.3" r="1.1" fill="#dcdcdc" opacity="0.42"/><circle cx="132.5" cy="200.3" r="1.1" fill="#dcdcdc" opacity="0.40"/><circle cx="145.5" cy="200.3" r="1.1" fill="#dcdcdc" opacity="0.38"/><circle cx="158.4" cy="200.3" r="1.1" fill="#dcdcdc" opacity="0.36"/><circle cx="171.4" cy="200.3" r="1.1" fill="#dcdcdc" opacity="0.34"/><circle cx="184.4" cy="200.3" r="1.1" fill="#dcdcdc" opacity="0.32"/><circle cx="197.4" cy="200.3" r="1.1" fill="#dcdcdc" opacity="0.30"/><circle cx="210.3" cy="200.3" r="1.1" fill="#dcdcdc" opacity="0.28"/><circle cx="223.3" cy="200.3" r="1.1" fill="#dcdcdc" opacity="0.26"/><circle cx="236.3" cy="200.3" r="1.1" fill="#dcdcdc" opacity="0.24"/><circle cx="249.2" cy="200.3" r="1.1" fill="#dcdcdc" opacity="0.23"/><circle cx="262.2" cy="200.3" r="1.1" fill="#dcdcdc" opacity="0.21"/><circle cx="275.2" cy="200.3" r="1.1" fill="#dcdcdc" opacity="0.19"/><circle cx="54.7" cy="213.3" r="1.1" fill="#dcdcdc" opacity="0.51"/><circle cx="67.7" cy="213.3" r="1.1" fill="#dcdcdc" opacity="0.49"/><circle cx="80.6" cy="213.3" r="1.1" fill="#dcdcdc" opacity="0.47"/><circle cx="93.6" cy="213.3" r="1.1" fill="#dcdcdc" opacity="0.45"/><circle cx="106.6" cy="213.3" r="1.1" fill="#dcdcdc" opacity="0.43"/><circle cx="119.5" cy="213.3" r="1.1" fill="#dcdcdc" opacity="0.41"/><circle cx="132.5" cy="213.3" r="1.1" fill="#dcdcdc" opacity="0.39"/><circle cx="145.5" cy="213.3" r="1.1" fill="#dcdcdc" opacity="0.37"/><circle cx="158.4" cy="213.3" r="1.1" fill="#dcdcdc" opacity="0.35"/><circle cx="171.4" cy="213.3" r="1.1" fill="#dcdcdc" opacity="0.33"/><circle cx="184.4" cy="213.3" r="1.1" fill="#dcdcdc" opacity="0.31"/><circle cx="197.4" cy="213.3" r="1.1" fill="#dcdcdc" opacity="0.29"/><circle cx="210.3" cy="213.3" r="1.1" fill="#dcdcdc" opacity="0.27"/><circle cx="223.3" cy="213.3" r="1.1" fill="#dcdcdc" opacity="0.25"/><circle cx="236.3" cy="213.3" r="1.1" fill="#dcdcdc" opacity="0.23"/><circle cx="249.2" cy="213.3" r="1.1" fill="#dcdcdc" opacity="0.21"/><circle cx="262.2" cy="213.3" r="1.1" fill="#dcdcdc" opacity="0.19"/><circle cx="275.2" cy="213.3" r="1.1" fill="#dcdcdc" opacity="0.18"/><circle cx="54.7" cy="226.3" r="1.1" fill="#dcdcdc" opacity="0.51"/><circle cx="67.7" cy="226.3" r="1.1" fill="#dcdcdc" opacity="0.49"/><circle cx="80.6" cy="226.3" r="1.1" fill="#dcdcdc" opacity="0.47"/><circle cx="93.6" cy="226.3" r="1.1" fill="#dcdcdc" opacity="0.45"/><circle cx="106.6" cy="226.3" r="1.1" fill="#dcdcdc" opacity="0.43"/><circle cx="119.5" cy="226.3" r="1.1" fill="#dcdcdc" opacity="0.41"/><circle cx="132.5" cy="226.3" r="1.1" fill="#dcdcdc" opacity="0.39"/><circle cx="145.5" cy="226.3" r="1.1" fill="#dcdcdc" opacity="0.37"/><circle cx="158.4" cy="226.3" r="1.1" fill="#dcdcdc" opacity="0.35"/><circle cx="171.4" cy="226.3" r="1.1" fill="#dcdcdc" opacity="0.33"/><circle cx="184.4" cy="226.3" r="1.1" fill="#dcdcdc" opacity="0.31"/><circle cx="197.4" cy="226.3" r="1.1" fill="#dcdcdc" opacity="0.29"/><circle cx="210.3" cy="226.3" r="1.1" fill="#dcdcdc" opacity="0.26"/><circle cx="223.3" cy="226.3" r="1.1" fill="#dcdcdc" opacity="0.24"/><circle cx="236.3" cy="226.3" r="1.1" fill="#dcdcdc" opacity="0.22"/><circle cx="249.2" cy="226.3" r="1.1" fill="#dcdcdc" opacity="0.20"/><circle cx="262.2" cy="226.3" r="1.1" fill="#dcdcdc" opacity="0.18"/><circle cx="54.7" cy="239.2" r="1.1" fill="#dcdcdc" opacity="0.51"/><circle cx="67.7" cy="239.2" r="1.1" fill="#dcdcdc" opacity="0.49"/><circle cx="80.6" cy="239.2" r="1.1" fill="#dcdcdc" opacity="0.46"/><circle cx="93.6" cy="239.2" r="1.1" fill="#dcdcdc" opacity="0.44"/><circle cx="106.6" cy="239.2" r="1.1" fill="#dcdcdc" opacity="0.42"/><circle cx="119.5" cy="239.2" r="1.1" fill="#dcdcdc" opacity="0.40"/><circle cx="132.5" cy="239.2" r="1.1" fill="#dcdcdc" opacity="0.38"/><circle cx="145.5" cy="239.2" r="1.1" fill="#dcdcdc" opacity="0.36"/><circle cx="158.4" cy="239.2" r="1.1" fill="#dcdcdc" opacity="0.34"/><circle cx="171.4" cy="239.2" r="1.1" fill="#dcdcdc" opacity="0.32"/><circle cx="184.4" cy="239.2" r="1.1" fill="#dcdcdc" opacity="0.30"/><circle cx="197.4" cy="239.2" r="1.1" fill="#dcdcdc" opacity="0.28"/><circle cx="210.3" cy="239.2" r="1.1" fill="#dcdcdc" opacity="0.25"/><circle cx="223.3" cy="239.2" r="1.1" fill="#dcdcdc" opacity="0.23"/><circle cx="236.3" cy="239.2" r="1.1" fill="#dcdcdc" opacity="0.21"/><circle cx="249.2" cy="239.2" r="1.1" fill="#dcdcdc" opacity="0.19"/><circle cx="54.7" cy="252.2" r="1.1" fill="#dcdcdc" opacity="0.50"/><circle cx="67.7" cy="252.2" r="1.1" fill="#dcdcdc" opacity="0.48"/><circle cx="80.6" cy="252.2" r="1.1" fill="#dcdcdc" opacity="0.46"/><circle cx="93.6" cy="252.2" r="1.1" fill="#dcdcdc" opacity="0.44"/><circle cx="106.6" cy="252.2" r="1.1" fill="#dcdcdc" opacity="0.42"/><circle cx="119.5" cy="252.2" r="1.1" fill="#dcdcdc" opacity="0.40"/><circle cx="132.5" cy="252.2" r="1.1" fill="#dcdcdc" opacity="0.37"/><circle cx="145.5" cy="252.2" r="1.1" fill="#dcdcdc" opacity="0.35"/><circle cx="158.4" cy="252.2" r="1.1" fill="#dcdcdc" opacity="0.33"/><circle cx="171.4" cy="252.2" r="1.1" fill="#dcdcdc" opacity="0.31"/><circle cx="184.4" cy="252.2" r="1.1" fill="#dcdcdc" opacity="0.29"/><circle cx="197.4" cy="252.2" r="1.1" fill="#dcdcdc" opacity="0.27"/><circle cx="210.3" cy="252.2" r="1.1" fill="#dcdcdc" opacity="0.24"/><circle cx="223.3" cy="252.2" r="1.1" fill="#dcdcdc" opacity="0.22"/><circle cx="236.3" cy="252.2" r="1.1" fill="#dcdcdc" opacity="0.20"/><circle cx="249.2" cy="252.2" r="1.1" fill="#dcdcdc" opacity="0.18"/><circle cx="54.7" cy="265.2" r="1.1" fill="#dcdcdc" opacity="0.50"/><circle cx="67.7" cy="265.2" r="1.1" fill="#dcdcdc" opacity="0.48"/><circle cx="80.6" cy="265.2" r="1.1" fill="#dcdcdc" opacity="0.46"/><circle cx="93.6" cy="265.2" r="1.1" fill="#dcdcdc" opacity="0.43"/><circle cx="106.6" cy="265.2" r="1.1" fill="#dcdcdc" opacity="0.41"/><circle cx="119.5" cy="265.2" r="1.1" fill="#dcdcdc" opacity="0.39"/><circle cx="132.5" cy="265.2" r="1.1" fill="#dcdcdc" opacity="0.37"/><circle cx="145.5" cy="265.2" r="1.1" fill="#dcdcdc" opacity="0.34"/><circle cx="158.4" cy="265.2" r="1.1" fill="#dcdcdc" opacity="0.32"/><circle cx="171.4" cy="265.2" r="1.1" fill="#dcdcdc" opacity="0.30"/><circle cx="184.4" cy="265.2" r="1.1" fill="#dcdcdc" opacity="0.28"/><circle cx="197.4" cy="265.2" r="1.1" fill="#dcdcdc" opacity="0.26"/><circle cx="210.3" cy="265.2" r="1.1" fill="#dcdcdc" opacity="0.23"/><circle cx="223.3" cy="265.2" r="1.1" fill="#dcdcdc" opacity="0.21"/><circle cx="236.3" cy="265.2" r="1.1" fill="#dcdcdc" opacity="0.19"/><circle cx="2.8" cy="278.1" r="1.1" fill="#dcdcdc" opacity="0.59"/><circle cx="15.8" cy="278.1" r="1.1" fill="#dcdcdc" opacity="0.57"/><circle cx="28.7" cy="278.1" r="1.1" fill="#dcdcdc" opacity="0.54"/><circle cx="41.7" cy="278.1" r="1.1" fill="#dcdcdc" opacity="0.52"/><circle cx="54.7" cy="278.1" r="1.1" fill="#dcdcdc" opacity="0.50"/><circle cx="67.7" cy="278.1" r="1.1" fill="#dcdcdc" opacity="0.47"/><circle cx="80.6" cy="278.1" r="1.1" fill="#dcdcdc" opacity="0.45"/><circle cx="93.6" cy="278.1" r="1.1" fill="#dcdcdc" opacity="0.43"/><circle cx="106.6" cy="278.1" r="1.1" fill="#dcdcdc" opacity="0.41"/><circle cx="119.5" cy="278.1" r="1.1" fill="#dcdcdc" opacity="0.38"/><circle cx="132.5" cy="278.1" r="1.1" fill="#dcdcdc" opacity="0.36"/><circle cx="145.5" cy="278.1" r="1.1" fill="#dcdcdc" opacity="0.34"/><circle cx="158.4" cy="278.1" r="1.1" fill="#dcdcdc" opacity="0.31"/><circle cx="171.4" cy="278.1" r="1.1" fill="#dcdcdc" opacity="0.29"/><circle cx="184.4" cy="278.1" r="1.1" fill="#dcdcdc" opacity="0.27"/><circle cx="197.4" cy="278.1" r="1.1" fill="#dcdcdc" opacity="0.24"/><circle cx="210.3" cy="278.1" r="1.1" fill="#dcdcdc" opacity="0.22"/><circle cx="223.3" cy="278.1" r="1.1" fill="#dcdcdc" opacity="0.20"/><circle cx="236.3" cy="278.1" r="1.1" fill="#dcdcdc" opacity="0.18"/><circle cx="2.8" cy="291.1" r="1.1" fill="#dcdcdc" opacity="0.59"/><circle cx="15.8" cy="291.1" r="1.1" fill="#dcdcdc" opacity="0.57"/><circle cx="28.7" cy="291.1" r="1.1" fill="#dcdcdc" opacity="0.54"/><circle cx="41.7" cy="291.1" r="1.1" fill="#dcdcdc" opacity="0.52"/><circle cx="54.7" cy="291.1" r="1.1" fill="#dcdcdc" opacity="0.49"/><circle cx="67.7" cy="291.1" r="1.1" fill="#dcdcdc" opacity="0.47"/><circle cx="80.6" cy="291.1" r="1.1" fill="#dcdcdc" opacity="0.45"/><circle cx="93.6" cy="291.1" r="1.1" fill="#dcdcdc" opacity="0.42"/><circle cx="106.6" cy="291.1" r="1.1" fill="#dcdcdc" opacity="0.40"/><circle cx="119.5" cy="291.1" r="1.1" fill="#dcdcdc" opacity="0.38"/><circle cx="132.5" cy="291.1" r="1.1" fill="#dcdcdc" opacity="0.35"/><circle cx="145.5" cy="291.1" r="1.1" fill="#dcdcdc" opacity="0.33"/><circle cx="158.4" cy="291.1" r="1.1" fill="#dcdcdc" opacity="0.30"/><circle cx="171.4" cy="291.1" r="1.1" fill="#dcdcdc" opacity="0.28"/><circle cx="184.4" cy="291.1" r="1.1" fill="#dcdcdc" opacity="0.26"/><circle cx="197.4" cy="291.1" r="1.1" fill="#dcdcdc" opacity="0.23"/><circle cx="210.3" cy="291.1" r="1.1" fill="#dcdcdc" opacity="0.21"/><circle cx="223.3" cy="291.1" r="1.1" fill="#dcdcdc" opacity="0.18"/><circle cx="2.8" cy="304.1" r="1.1" fill="#dcdcdc" opacity="0.59"/><circle cx="15.8" cy="304.1" r="1.1" fill="#dcdcdc" opacity="0.56"/><circle cx="28.7" cy="304.1" r="1.1" fill="#dcdcdc" opacity="0.54"/><circle cx="41.7" cy="304.1" r="1.1" fill="#dcdcdc" opacity="0.52"/><circle cx="54.7" cy="304.1" r="1.1" fill="#dcdcdc" opacity="0.49"/><circle cx="67.7" cy="304.1" r="1.1" fill="#dcdcdc" opacity="0.47"/><circle cx="80.6" cy="304.1" r="1.1" fill="#dcdcdc" opacity="0.44"/><circle cx="93.6" cy="304.1" r="1.1" fill="#dcdcdc" opacity="0.42"/><circle cx="106.6" cy="304.1" r="1.1" fill="#dcdcdc" opacity="0.39"/><circle cx="119.5" cy="304.1" r="1.1" fill="#dcdcdc" opacity="0.37"/><circle cx="132.5" cy="304.1" r="1.1" fill="#dcdcdc" opacity="0.34"/><circle cx="145.5" cy="304.1" r="1.1" fill="#dcdcdc" opacity="0.32"/><circle cx="158.4" cy="304.1" r="1.1" fill="#dcdcdc" opacity="0.29"/><circle cx="171.4" cy="304.1" r="1.1" fill="#dcdcdc" opacity="0.27"/><circle cx="184.4" cy="304.1" r="1.1" fill="#dcdcdc" opacity="0.24"/><circle cx="197.4" cy="304.1" r="1.1" fill="#dcdcdc" opacity="0.22"/><circle cx="210.3" cy="304.1" r="1.1" fill="#dcdcdc" opacity="0.19"/><circle cx="2.8" cy="317.1" r="1.1" fill="#dcdcdc" opacity="0.59"/><circle cx="15.8" cy="317.1" r="1.1" fill="#dcdcdc" opacity="0.56"/><circle cx="28.7" cy="317.1" r="1.1" fill="#dcdcdc" opacity="0.54"/><circle cx="41.7" cy="317.1" r="1.1" fill="#dcdcdc" opacity="0.51"/><circle cx="54.7" cy="317.1" r="1.1" fill="#dcdcdc" opacity="0.49"/><circle cx="67.7" cy="317.1" r="1.1" fill="#dcdcdc" opacity="0.46"/><circle cx="80.6" cy="317.1" r="1.1" fill="#dcdcdc" opacity="0.44"/><circle cx="93.6" cy="317.1" r="1.1" fill="#dcdcdc" opacity="0.41"/><circle cx="106.6" cy="317.1" r="1.1" fill="#dcdcdc" opacity="0.38"/><circle cx="119.5" cy="317.1" r="1.1" fill="#dcdcdc" opacity="0.36"/><circle cx="132.5" cy="317.1" r="1.1" fill="#dcdcdc" opacity="0.33"/><circle cx="145.5" cy="317.1" r="1.1" fill="#dcdcdc" opacity="0.31"/><circle cx="158.4" cy="317.1" r="1.1" fill="#dcdcdc" opacity="0.28"/><circle cx="171.4" cy="317.1" r="1.1" fill="#dcdcdc" opacity="0.26"/><circle cx="184.4" cy="317.1" r="1.1" fill="#dcdcdc" opacity="0.23"/><circle cx="197.4" cy="317.1" r="1.1" fill="#dcdcdc" opacity="0.21"/><circle cx="210.3" cy="317.1" r="1.1" fill="#dcdcdc" opacity="0.18"/><circle cx="2.8" cy="330.0" r="1.1" fill="#dcdcdc" opacity="0.59"/><circle cx="15.8" cy="330.0" r="1.1" fill="#dcdcdc" opacity="0.56"/><circle cx="28.7" cy="330.0" r="1.1" fill="#dcdcdc" opacity="0.54"/><circle cx="41.7" cy="330.0" r="1.1" fill="#dcdcdc" opacity="0.51"/><circle cx="54.7" cy="330.0" r="1.1" fill="#dcdcdc" opacity="0.48"/><circle cx="67.7" cy="330.0" r="1.1" fill="#dcdcdc" opacity="0.46"/><circle cx="80.6" cy="330.0" r="1.1" fill="#dcdcdc" opacity="0.43"/><circle cx="93.6" cy="330.0" r="1.1" fill="#dcdcdc" opacity="0.40"/><circle cx="106.6" cy="330.0" r="1.1" fill="#dcdcdc" opacity="0.38"/><circle cx="119.5" cy="330.0" r="1.1" fill="#dcdcdc" opacity="0.35"/><circle cx="132.5" cy="330.0" r="1.1" fill="#dcdcdc" opacity="0.32"/><circle cx="145.5" cy="330.0" r="1.1" fill="#dcdcdc" opacity="0.30"/><circle cx="158.4" cy="330.0" r="1.1" fill="#dcdcdc" opacity="0.27"/><circle cx="171.4" cy="330.0" r="1.1" fill="#dcdcdc" opacity="0.24"/><circle cx="184.4" cy="330.0" r="1.1" fill="#dcdcdc" opacity="0.22"/><circle cx="197.4" cy="330.0" r="1.1" fill="#dcdcdc" opacity="0.19"/><circle cx="2.8" cy="343.0" r="1.1" fill="#dcdcdc" opacity="0.59"/><circle cx="15.8" cy="343.0" r="1.1" fill="#dcdcdc" opacity="0.56"/><circle cx="28.7" cy="343.0" r="1.1" fill="#dcdcdc" opacity="0.53"/><circle cx="41.7" cy="343.0" r="1.1" fill="#dcdcdc" opacity="0.51"/><circle cx="54.7" cy="343.0" r="1.1" fill="#dcdcdc" opacity="0.48"/><circle cx="67.7" cy="343.0" r="1.1" fill="#dcdcdc" opacity="0.45"/><circle cx="80.6" cy="343.0" r="1.1" fill="#dcdcdc" opacity="0.42"/><circle cx="93.6" cy="343.0" r="1.1" fill="#dcdcdc" opacity="0.40"/><circle cx="106.6" cy="343.0" r="1.1" fill="#dcdcdc" opacity="0.37"/><circle cx="119.5" cy="343.0" r="1.1" fill="#dcdcdc" opacity="0.34"/><circle cx="132.5" cy="343.0" r="1.1" fill="#dcdcdc" opacity="0.31"/><circle cx="145.5" cy="343.0" r="1.1" fill="#dcdcdc" opacity="0.29"/><circle cx="158.4" cy="343.0" r="1.1" fill="#dcdcdc" opacity="0.26"/><circle cx="171.4" cy="343.0" r="1.1" fill="#dcdcdc" opacity="0.23"/><circle cx="184.4" cy="343.0" r="1.1" fill="#dcdcdc" opacity="0.20"/><circle cx="197.4" cy="343.0" r="1.1" fill="#dcdcdc" opacity="0.18"/><circle cx="2.8" cy="356.0" r="1.1" fill="#dcdcdc" opacity="0.59"/><circle cx="15.8" cy="356.0" r="1.1" fill="#dcdcdc" opacity="0.56"/><circle cx="28.7" cy="356.0" r="1.1" fill="#dcdcdc" opacity="0.53"/><circle cx="41.7" cy="356.0" r="1.1" fill="#dcdcdc" opacity="0.50"/><circle cx="54.7" cy="356.0" r="1.1" fill="#dcdcdc" opacity="0.47"/><circle cx="67.7" cy="356.0" r="1.1" fill="#dcdcdc" opacity="0.45"/><circle cx="80.6" cy="356.0" r="1.1" fill="#dcdcdc" opacity="0.42"/><circle cx="93.6" cy="356.0" r="1.1" fill="#dcdcdc" opacity="0.39"/><circle cx="106.6" cy="356.0" r="1.1" fill="#dcdcdc" opacity="0.36"/><circle cx="119.5" cy="356.0" r="1.1" fill="#dcdcdc" opacity="0.33"/><circle cx="132.5" cy="356.0" r="1.1" fill="#dcdcdc" opacity="0.30"/><circle cx="145.5" cy="356.0" r="1.1" fill="#dcdcdc" opacity="0.27"/><circle cx="158.4" cy="356.0" r="1.1" fill="#dcdcdc" opacity="0.24"/><circle cx="171.4" cy="356.0" r="1.1" fill="#dcdcdc" opacity="0.22"/><circle cx="184.4" cy="356.0" r="1.1" fill="#dcdcdc" opacity="0.19"/><circle cx="2.8" cy="368.9" r="1.1" fill="#dcdcdc" opacity="0.59"/><circle cx="15.8" cy="368.9" r="1.1" fill="#dcdcdc" opacity="0.56"/><circle cx="28.7" cy="368.9" r="1.1" fill="#dcdcdc" opacity="0.53"/><circle cx="41.7" cy="368.9" r="1.1" fill="#dcdcdc" opacity="0.50"/><circle cx="54.7" cy="368.9" r="1.1" fill="#dcdcdc" opacity="0.47"/><circle cx="67.7" cy="368.9" r="1.1" fill="#dcdcdc" opacity="0.44"/><circle cx="80.6" cy="368.9" r="1.1" fill="#dcdcdc" opacity="0.41"/><circle cx="93.6" cy="368.9" r="1.1" fill="#dcdcdc" opacity="0.38"/><circle cx="106.6" cy="368.9" r="1.1" fill="#dcdcdc" opacity="0.35"/><circle cx="119.5" cy="368.9" r="1.1" fill="#dcdcdc" opacity="0.32"/><circle cx="132.5" cy="368.9" r="1.1" fill="#dcdcdc" opacity="0.29"/><circle cx="145.5" cy="368.9" r="1.1" fill="#dcdcdc" opacity="0.26"/><circle cx="158.4" cy="368.9" r="1.1" fill="#dcdcdc" opacity="0.23"/><circle cx="171.4" cy="368.9" r="1.1" fill="#dcdcdc" opacity="0.20"/><circle cx="2.8" cy="381.9" r="1.1" fill="#dcdcdc" opacity="0.59"/><circle cx="15.8" cy="381.9" r="1.1" fill="#dcdcdc" opacity="0.56"/><circle cx="28.7" cy="381.9" r="1.1" fill="#dcdcdc" opacity="0.53"/><circle cx="41.7" cy="381.9" r="1.1" fill="#dcdcdc" opacity="0.49"/><circle cx="54.7" cy="381.9" r="1.1" fill="#dcdcdc" opacity="0.46"/><circle cx="67.7" cy="381.9" r="1.1" fill="#dcdcdc" opacity="0.43"/><circle cx="80.6" cy="381.9" r="1.1" fill="#dcdcdc" opacity="0.40"/><circle cx="93.6" cy="381.9" r="1.1" fill="#dcdcdc" opacity="0.37"/><circle cx="106.6" cy="381.9" r="1.1" fill="#dcdcdc" opacity="0.34"/><circle cx="119.5" cy="381.9" r="1.1" fill="#dcdcdc" opacity="0.31"/><circle cx="132.5" cy="381.9" r="1.1" fill="#dcdcdc" opacity="0.28"/><circle cx="145.5" cy="381.9" r="1.1" fill="#dcdcdc" opacity="0.24"/><circle cx="158.4" cy="381.9" r="1.1" fill="#dcdcdc" opacity="0.21"/><circle cx="171.4" cy="381.9" r="1.1" fill="#dcdcdc" opacity="0.18"/><circle cx="2.8" cy="394.9" r="1.1" fill="#dcdcdc" opacity="0.59"/><circle cx="15.8" cy="394.9" r="1.1" fill="#dcdcdc" opacity="0.56"/><circle cx="28.7" cy="394.9" r="1.1" fill="#dcdcdc" opacity="0.52"/><circle cx="41.7" cy="394.9" r="1.1" fill="#dcdcdc" opacity="0.49"/><circle cx="54.7" cy="394.9" r="1.1" fill="#dcdcdc" opacity="0.46"/><circle cx="67.7" cy="394.9" r="1.1" fill="#dcdcdc" opacity="0.42"/><circle cx="80.6" cy="394.9" r="1.1" fill="#dcdcdc" opacity="0.39"/><circle cx="93.6" cy="394.9" r="1.1" fill="#dcdcdc" opacity="0.36"/><circle cx="106.6" cy="394.9" r="1.1" fill="#dcdcdc" opacity="0.33"/><circle cx="119.5" cy="394.9" r="1.1" fill="#dcdcdc" opacity="0.29"/><circle cx="132.5" cy="394.9" r="1.1" fill="#dcdcdc" opacity="0.26"/><circle cx="145.5" cy="394.9" r="1.1" fill="#dcdcdc" opacity="0.23"/><circle cx="158.4" cy="394.9" r="1.1" fill="#dcdcdc" opacity="0.19"/></svg><!--/DOTS-->

<svg class="abs" style="left:0;top:0" width="60" height="80" viewBox="0 0 60 80">
<g fill="none" stroke="#29b5e8" stroke-width="3.35" stroke-linecap="round" stroke-linejoin="round" transform="translate(23.9 50.2)">
<polyline points="-13.85,-3.9 -7.1,0 -13.85,3.9"/>
<polyline points="-13.85,-3.9 -7.1,0 -13.85,3.9" transform="rotate(60)"/>
<polyline points="-13.85,-3.9 -7.1,0 -13.85,3.9" transform="rotate(120)"/>
<polyline points="-13.85,-3.9 -7.1,0 -13.85,3.9" transform="rotate(180)"/>
<polyline points="-13.85,-3.9 -7.1,0 -13.85,3.9" transform="rotate(240)"/>
<polyline points="-13.85,-3.9 -7.1,0 -13.85,3.9" transform="rotate(300)"/>
<polygon points="0,-2.7 2.7,0 0,2.7 -2.7,0" stroke-width="1.5"/>
</g>
</svg>
<div class="logo-word">snowflake<sup>®</sup></div>

<div class="title">Herausforderungen bei der optimalen Nutzung von Daten</div>

<div class="line" style="top:135px"></div>
<div class="line" style="top:174px"></div>
<div class="line" style="top:214px"></div>
<div class="line" style="top:256px"></div>
<div class="line" style="top:298px"></div>
<div class="line" style="top:340px"></div>
<div class="line" style="top:381px"></div>

<div class="row" style="top:143px;letter-spacing:0.09px">Sicherheitsbedenken rund um Daten in der Cloud</div>
<div class="row" style="top:185px;letter-spacing:0.235px">Fehlende IT- und Dateninfrastruktur</div>
<div class="row" style="top:226px;letter-spacing:0.15px">Störungen in der bestehenden Dateninfrastruktur</div>
<div class="row" style="top:268px;letter-spacing:0.236px">Fehlende Mitarbeitende mit Daten- und Analysekompetenzen</div>
<div class="row" style="top:310px;letter-spacing:0.056px">Schwierigkeiten bei der Erfüllung regulatorischer Anforderungen</div>
<div class="row" style="top:352px;letter-spacing:0.0px">Fehlende finanzielle Ressourcen</div>

<div class="bar" style="top:147px;width:177px"><span style="left:133.7px;letter-spacing:0px">40%</span></div>
<div class="bar" style="top:187px;width:142px"><span style="left:104.4px;letter-spacing:0px">3<span style="font-family:NanumGothic,sans-serif;font-weight:800;margin-left:-1.8px;margin-right:-2.7px">1</span>%</span></div>
<div class="bar" style="top:227px;width:132px"><span style="left:89.5px;letter-spacing:-0.9px">29%</span></div>
<div class="bar" style="top:270px;width:127px"><span style="left:84.6px;letter-spacing:-1.4px">28%</span></div>
<div class="bar" style="top:310px;width:118px"><span style="left:74.5px;letter-spacing:-1.2px">26%</span></div>
<div class="bar" style="top:355px;width:99px"><span style="left:55.5px;letter-spacing:-1.7px">22%</span></div>

</body></html>
